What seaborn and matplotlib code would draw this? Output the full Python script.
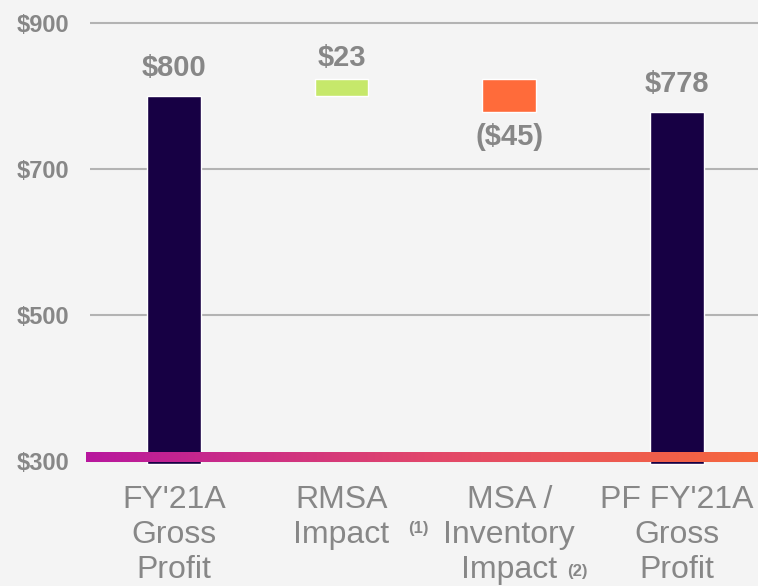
import numpy as np
import matplotlib
matplotlib.use("Agg")
import matplotlib.pyplot as plt
from matplotlib.colors import LinearSegmentedColormap
import seaborn as sns

sns.set_style("white")
plt.rcParams['font.family'] = ['Liberation Sans', 'DejaVu Sans']

categories = ["FY'21A\nGross\nProfit", "RMSA\nImpact", "MSA /\nInventory\nImpact", "PF FY'21A\nGross\nProfit"]
changes = [800, 23, -45, 778]
is_total = [True, False, False, True]
value_labels = ["$800", "$23", "($45)", "$778"]
footnotes = ["", "(1)", "(2)", ""]
y_ticks = [300, 500, 700, 900]
y_tick_labels = ["$300", "$500", "$700", "$900"]

BASE = 296
BG = '#f4f4f4'
GREY = '#878787'
NAVY = '#170044'
GREEN = '#c6e86b'
ORANGE = '#ff6b3a'

# waterfall bottoms / tops
bottoms, tops = [], []
running = 0
for v, tot in zip(changes, is_total):
    if tot:
        bottoms.append(BASE)
        tops.append(v)
        running = v
    else:
        lo, hi = sorted([running, running + v])
        bottoms.append(lo)
        tops.append(hi)
        running += v

colors = []
for v, tot in zip(changes, is_total):
    colors.append(NAVY if tot else (GREEN if v > 0 else ORANGE))

fig = plt.figure(figsize=(7.58, 5.86), dpi=100, facecolor=BG)
ax = fig.add_axes([0.1187, 0.198, 0.885, 0.802])
ax.set_facecolor(BG)

sns.barplot(x=categories, y=tops, hue=categories, palette=colors, legend=False,
            width=0.32, saturation=1, ax=ax, zorder=2)

for p, b, t in zip(ax.patches, bottoms, tops):
    p.set_y(b)
    p.set_height(t - b)

ax.set_xlim(-0.5, 3.5)
ax.set_ylim(287.7, 931.5)
ax.set_yticks(y_ticks)
ax.set_yticklabels(y_tick_labels)
ax.grid(axis='y', color='#b3b3b3', lw=1.5, zorder=0)
ax.grid(axis='x', visible=False)
for s in ax.spines.values():
    s.set_visible(False)
ax.tick_params(axis='y', length=0, pad=15, labelsize=17, labelcolor=GREY)
ax.tick_params(axis='x', length=0, pad=11, labelsize=23, labelcolor=GREY)
for lab in ax.get_yticklabels():
    lab.set_fontweight('bold')
for lab in ax.get_xticklabels():
    lab.set_linespacing(1.22)
ax.set_xlabel('')
ax.set_ylabel('')

# value labels
for i, (p, lab, v, tot) in enumerate(zip(ax.patches, value_labels, changes, is_total)):
    x = p.get_x() + p.get_width() / 2
    if v < 0 and not tot:
        ax.annotate(lab, (x, p.get_y()), xytext=(0, -8), textcoords='offset points',
                    ha='center', va='top', fontsize=21, fontweight='bold', color=GREY)
    else:
        off = 10 if tot else 5
        ax.annotate(lab, (x, p.get_y() + p.get_height()), xytext=(0, off), textcoords='offset points',
                    ha='center', va='bottom', fontsize=21, fontweight='bold', color=GREY)

# footnote markers
fn_offsets = {1: (55, -42), 2: (49, -73)}
for i, fn in enumerate(footnotes):
    if fn:
        dx, dy = fn_offsets[i]
        ax.annotate(fn, (i, 0), xycoords=('data', 'axes fraction'), xytext=(dx, dy),
                    textcoords='offset points', ha='center', va='center',
                    fontsize=12, fontweight='bold', color=GREY, annotation_clip=False)

# gradient baseline
cmap = LinearSegmentedColormap.from_list('grad', ['#b8179e', '#e2476a', '#f76a3a'])
grad = np.linspace(0, 1, 256).reshape(1, -1)
ax.imshow(grad, extent=[-0.524, 3.6, 299, 312.5], aspect='auto', cmap=cmap,
          zorder=3, clip_on=False)
ax.set_xlim(-0.5, 3.5)
ax.set_ylim(287.7, 931.5)

fig.savefig('out.png', dpi=100, facecolor=BG)
